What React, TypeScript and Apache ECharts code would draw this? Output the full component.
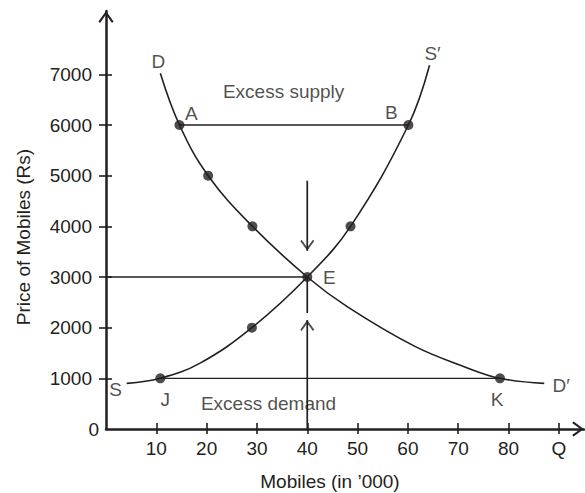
import React, { useEffect, useRef } from "react";
import * as echarts from "echarts";

const INK = "#231f20";
const FONT = '"Liberation Sans", Arial, Helvetica, sans-serif';
const CHEVRON = "path://M7,0L14,9.6L12.6,11L7,3.2L1.4,11L0,9.6Z";

// Axis ticks and labels
const xTickValues = [10, 20, 30, 40, 50, 60, 70, 80, 90];
const xTickLabels = ["10", "20", "30", "40", "50", "60", "70", "80", "Q"];
const yTickValues = [1000, 2000, 3000, 4000, 5000, 6000, 7000];
const yTickLabels = ["1000", "2000", "3000", "4000", "5000", "6000", "7000"];

// Demand curve D–D′ (quantity in '000, price in Rs)
const demandQty = [10.8, 14.6, 20.3, 29.1, 40, 48, 61.2, 71.2, 78.3, 87.1];
const demandPrice = [7020, 6000, 5000, 4000, 3000, 2410, 1640, 1230, 1000, 900];

// Supply curve S–S′
const supplyQty = [4.1, 10.8, 18.7, 29, 40, 48.6, 60.1, 64.3];
const supplyPrice = [900, 1000, 1300, 2000, 3000, 4000, 6000, 7180];

// Marked points
const demandDotQty = [14.6, 20.3, 29.1, 40, 78.3];
const demandDotPrice = [6000, 5000, 4000, 3000, 1000];
const supplyDotQty = [10.8, 29, 48.6, 60.1];
const supplyDotPrice = [1000, 2000, 4000, 6000];

// Equilibrium and gaps
const eqQty = 40;
const eqPrice = 3000;
const excessSupplyPrice = 6000;
const excessSupplyQty = [14.6, 60.1]; // A to B
const excessDemandPrice = 1000;
const excessDemandQty = [10.8, 78.3]; // J to K
const downArrowPrice = [4900, 3520];
const upArrowPrice = [0, 2150];
const eDropPrice = [3000, 2290];

const zip = (xs: number[], ys: number[]) => xs.map((x, i) => [x, ys[i]]);

export default function App() {
  const ref = useRef<HTMLDivElement>(null);
  useEffect(() => {
    if (!ref.current) return;
    const chart = echarts.init(ref.current, null, { renderer: "svg" });
    const text = { color: INK, fontSize: 19, fontFamily: FONT };
    const seg = (name: string, pts: number[][], width = 1.3) => ({
      name,
      type: "line",
      data: pts,
      showSymbol: false,
      symbol: "none",
      silent: true,
      lineStyle: { color: INK, width },
      z: 2,
    });
    const notes = [
      { t: "D", at: [demandQty[0], demandPrice[0]], off: [-2, -12] },
      { t: "A", at: [excessSupplyQty[0], excessSupplyPrice], off: [12, -12] },
      { t: "B", at: [excessSupplyQty[1], excessSupplyPrice], off: [-17, -13] },
      { t: "S′", at: [supplyQty[supplyQty.length - 1], supplyPrice[supplyPrice.length - 1]], off: [3, -12] },
      { t: "E", at: [eqQty, eqPrice], off: [22, 0] },
      { t: "S", at: [supplyQty[0], supplyPrice[0]], off: [-11, 6] },
      { t: "J", at: [excessDemandQty[0], excessDemandPrice], off: [5, 21] },
      { t: "K", at: [excessDemandQty[1], excessDemandPrice], off: [-3, 21] },
      { t: "D′", at: [demandQty[demandQty.length - 1], demandPrice[demandPrice.length - 1]], off: [17, 2] },
      { t: "Excess supply", at: [35.3, 6660], off: [0, 0] },
      { t: "Excess demand", at: [32.3, 513], off: [0, 0] },
    ];
    const xLabel = (v: number) => {
      const i = xTickValues.findIndex((t) => Math.abs(t - v) < 1e-6);
      return i >= 0 ? xTickLabels[i] : "";
    };
    const yLabel = (v: number) => {
      const i = yTickValues.findIndex((t) => Math.abs(t - v) < 1e-6);
      return i >= 0 ? yTickLabels[i] : "";
    };
    chart.setOption({
      animation: false,
      grid: { left: 106, right: 1, top: 11, bottom: 64, containLabel: false, outerBoundsMode: "none" },
      xAxis: [
        {
          type: "value",
          position: "bottom",
          min: 0,
          max: 95,
          axisLine: {
            show: true,
            onZero: false,
            lineStyle: { color: INK, width: 2.5 },
            symbol: ["none", CHEVRON],
            symbolSize: [15, 12],
            symbolOffset: [0, -6],
          },
          axisTick: { show: true, customValues: xTickValues, inside: false, length: 5, lineStyle: { color: INK, width: 1.6 } },
          axisLabel: { customValues: xTickValues, formatter: xLabel, margin: 10, ...text },
          splitLine: { show: false },
        },
        {
          type: "value",
          position: "bottom",
          min: 0,
          max: 95,
          axisLine: { show: false, onZero: false },
          axisTick: { show: true, customValues: xTickValues, inside: true, length: 6, lineStyle: { color: INK, width: 1.6 } },
          axisLabel: { show: false },
          splitLine: { show: false },
        },
      ],
      yAxis: [
        {
          type: "value",
          position: "left",
          min: 0,
          max: 8250,
          axisLine: {
            show: true,
            onZero: false,
            lineStyle: { color: INK, width: 2.5 },
            symbol: ["none", CHEVRON],
            symbolSize: [15, 12],
            symbolOffset: [0, -6],
          },
          axisTick: { show: true, customValues: yTickValues, inside: false, length: 7, lineStyle: { color: INK, width: 1.6 } },
          axisLabel: { customValues: yTickValues, formatter: yLabel, margin: 14, padding: [8, 0, 0, 0], ...text },
          splitLine: { show: false },
        },
        {
          type: "value",
          position: "left",
          min: 0,
          max: 8250,
          axisLine: { show: false, onZero: false },
          axisTick: { show: true, customValues: yTickValues, inside: true, length: 6, lineStyle: { color: INK, width: 1.6 } },
          axisLabel: { customValues: [0], formatter: () => "0", margin: 7, padding: [0, 0, 11, 0], ...text },
          splitLine: { show: false },
        },
      ],
      series: [
        { ...seg("demand", zip(demandQty, demandPrice), 1.6), smooth: 0.4 },
        { ...seg("supply", zip(supplyQty, supplyPrice), 1.6), smooth: 0.4 },
        seg("excessSupply", [[excessSupplyQty[0], excessSupplyPrice], [excessSupplyQty[1], excessSupplyPrice]]),
        seg("excessDemand", [[excessDemandQty[0], excessDemandPrice], [excessDemandQty[1], excessDemandPrice]]),
        seg("eqPrice", [[0, eqPrice], [eqQty, eqPrice]]),
        seg("eDrop", [[eqQty, eDropPrice[0]], [eqQty, eDropPrice[1]]], 1.7),
        seg("downArrow", [[eqQty, downArrowPrice[0]], [eqQty, downArrowPrice[1]]], 1.7),
        seg("upArrow", [[eqQty, upArrowPrice[0]], [eqQty, upArrowPrice[1]]], 1.7),
        {
          name: "arrowHeads",
          type: "scatter",
          silent: true,
          symbol: CHEVRON,
          symbolSize: [14, 11],
          itemStyle: { color: INK },
          data: [
            { value: [eqQty, downArrowPrice[1]], symbolRotate: 180, symbolOffset: [0, -5.5] },
            { value: [eqQty, upArrowPrice[1]], symbolRotate: 0, symbolOffset: [0, 5.5] },
          ],
          z: 4,
        },
        {
          name: "dots",
          type: "scatter",
          silent: true,
          symbol: "circle",
          symbolSize: 10,
          itemStyle: { color: INK },
          data: [...zip(demandDotQty, demandDotPrice), ...zip(supplyDotQty, supplyDotPrice)],
          z: 5,
        },
        {
          name: "notes",
          type: "scatter",
          silent: true,
          symbol: "circle",
          symbolSize: 0.1,
          itemStyle: { color: "rgba(0,0,0,0)" },
          data: notes.map((n) => ({
            value: n.at,
            label: {
              show: true,
              position: "inside",
              formatter: n.t,
              offset: n.off,
              align: "center",
              verticalAlign: "middle",
              ...text,
            },
          })),
          z: 6,
        },
      ],
      graphic: [
        {
          type: "text",
          x: 23,
          y: 237,
          rotation: Math.PI / 2,
          silent: true,
          style: { text: "Price of Mobiles (Rs)", fill: INK, fontSize: 19, fontFamily: FONT, align: "center", verticalAlign: "middle" },
        },
        {
          type: "text",
          x: 330,
          y: 481,
          silent: true,
          style: { text: "Mobiles (in ’000)", fill: INK, fontSize: 19, fontFamily: FONT, align: "center", verticalAlign: "middle" },
        },
      ],
    });
    return () => chart.dispose();
  }, []);
  return (
    <div
      ref={ref}
      style={{ position: "fixed", left: 0, top: 0, width: 585, height: 493, background: "#fff" }}
    />
  );
}
